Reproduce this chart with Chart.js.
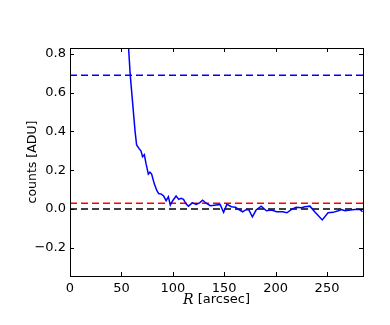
<!DOCTYPE html>
<html>
<head>
<meta charset="utf-8">
<script src="https://cdn.jsdelivr.net/npm/chart.js@4/dist/chart.umd.min.js"></script>
<style>
  html, body { margin: 0; padding: 0; background: #fff; }
  #profile { display: block; }
</style>
</head>
<body>
<canvas id="profile" width="390" height="325"></canvas>
<script>
// radial profile
const radiusArcsec = [55, 58.6, 63.3, 64.8, 67.4, 69, 70.6, 72.3, 73.9, 76.2, 77.8, 79.4, 82, 84.3, 86.2, 88.9, 91.1, 93.5, 95.7, 97.6, 99.9, 103.2, 105.8, 108, 110.4, 113, 115.2, 119, 122.7, 126, 129, 132.5, 136.4, 140.6, 146, 149.4, 152.6, 157, 161, 165, 168, 171.6, 174, 177.4, 181, 186, 191, 196, 201, 206.7, 211, 215.5, 220, 225, 228.5, 233.4, 238, 245.4, 251, 256, 261, 264, 267.6, 272.5, 277, 282, 284.5];
const countsAdu = [1.0, 0.69, 0.4, 0.33, 0.31, 0.3, 0.27, 0.28, 0.235, 0.18, 0.19, 0.18, 0.13, 0.097, 0.08, 0.077, 0.067, 0.043, 0.063, 0.02, 0.043, 0.067, 0.05, 0.055, 0.05, 0.026, 0.015, 0.032, 0.024, 0.032, 0.046, 0.03, 0.017, 0.02, 0.024, -0.017, 0.024, 0.012, 0.009, -0.005, -0.014, -0.002, -0.005, -0.04, -0.005, 0.015, -0.009, -0.005, -0.014, -0.014, -0.019, -0.002, 0.009, 0.007, 0.012, 0.015, -0.014, -0.056, -0.019, -0.017, -0.009, -0.002, -0.009, -0.005, -0.002, -0.002, -0.014];

// horizontal reference levels
const levelBlue = 0.69;
const levelRed = 0.03;
const levelBlack = 0.0;

const xRange = [0, 285];
const yRange = [-0.345, 0.83];
const xTicks = [0, 50, 100, 150, 200, 250];
const yTicks = [-0.2, 0.0, 0.2, 0.4, 0.6, 0.8];

const FONT = "'DejaVu Sans', sans-serif";

function flatLine(level) {
  return xRange.map((x) => ({ x: x, y: level }));
}

// matplotlib style box with ticks pointing inward on all four sides
const frameTicks = {
  id: "frameTicks",
  afterDraw(chart) {
    const { ctx, chartArea: a, scales } = chart;
    ctx.save();
    ctx.strokeStyle = "#000";
    ctx.lineWidth = 1;
    ctx.beginPath();
    xTicks.forEach((v) => {
      const px = Math.round(scales.x.getPixelForValue(v)) + 0.5;
      ctx.moveTo(px, a.bottom);
      ctx.lineTo(px, a.bottom - 4);
      ctx.moveTo(px, a.top);
      ctx.lineTo(px, a.top + 4);
    });
    yTicks.forEach((v) => {
      const py = Math.round(scales.y.getPixelForValue(v)) + 0.5;
      ctx.moveTo(a.left, py);
      ctx.lineTo(a.left + 4, py);
      ctx.moveTo(a.right, py);
      ctx.lineTo(a.right - 4, py);
    });
    ctx.stroke();
    ctx.strokeRect(Math.round(a.left) + 0.5, Math.round(a.top) + 0.5,
      Math.round(a.right - a.left), Math.round(a.bottom - a.top));

    // x axis title with italic R
    const cx = (a.left + a.right) / 2;
    const ty = 300;
    ctx.fillStyle = "#000";
    ctx.textBaseline = "middle";
    ctx.font = "italic 14px 'DejaVu Serif', serif";
    const wR = ctx.measureText("R").width;
    ctx.font = "13px " + FONT;
    const rest = " [arcsec]";
    const wRest = ctx.measureText(rest).width;
    let x0 = cx - (wR + wRest) / 2;
    ctx.textAlign = "left";
    ctx.font = "italic 14px 'DejaVu Serif', serif";
    ctx.fillText("R", x0, ty);
    ctx.font = "13px " + FONT;
    ctx.fillText(rest, x0 + wR, ty);
    ctx.restore();
  },
};

new Chart(document.getElementById("profile"), {
  type: "line",
  data: {
    datasets: [
      {
        data: radiusArcsec.map((r, i) => ({ x: r, y: countsAdu[i] })),
        borderColor: "#0000ff",
        borderWidth: 1.5,
      },
      {
        data: flatLine(levelBlue),
        borderColor: "#0000ff",
        borderWidth: 1.5,
        borderDash: [7, 4],
      },
      {
        data: flatLine(levelRed),
        borderColor: "#ff0000",
        borderWidth: 1.5,
        borderDash: [7, 4],
      },
      {
        data: flatLine(levelBlack),
        borderColor: "#000000",
        borderWidth: 1.5,
        borderDash: [7, 4],
      },
    ],
  },
  options: {
    responsive: false,
    animation: false,
    devicePixelRatio: 1,
    layout: { padding: { top: 48, right: 27, left: 0, bottom: 0 } },
    elements: { point: { radius: 0 }, line: { tension: 0 } },
    plugins: { legend: { display: false }, tooltip: { enabled: false } },
    scales: {
      x: {
        type: "linear",
        min: xRange[0],
        max: xRange[1],
        grid: { display: false, drawTicks: false },
        border: { display: false },
        ticks: {
          color: "#000",
          font: { family: FONT, size: 13 },
          padding: 5,
          maxRotation: 0,
          includeBounds: false,
          callback: (v) => String(v),
        },
        afterBuildTicks: (scale) => {
          scale.ticks = xTicks.map((v) => ({ value: v }));
        },
        afterFit: (scale) => {
          scale.height = 49;
        },
      },
      y: {
        type: "linear",
        min: yRange[0],
        max: yRange[1],
        grid: { display: false, drawTicks: false },
        border: { display: false },
        ticks: {
          color: "#000",
          font: { family: FONT, size: 13 },
          padding: 4,
          includeBounds: false,
          callback: (v) => (v < 0 ? "\u2212" : "") + Math.abs(v).toFixed(1),
        },
        afterBuildTicks: (scale) => {
          scale.ticks = yTicks.map((v) => ({ value: v }));
        },
        afterFit: (scale) => {
          scale.width = 70;
        },
        title: {
          display: true,
          text: "counts [ADU]",
          color: "#000",
          font: { family: FONT, size: 12.5 },
          padding: { top: 25, bottom: 0 },
        },
      },
    },
  },
  plugins: [frameTicks],
});
</script>
</body>
</html>
